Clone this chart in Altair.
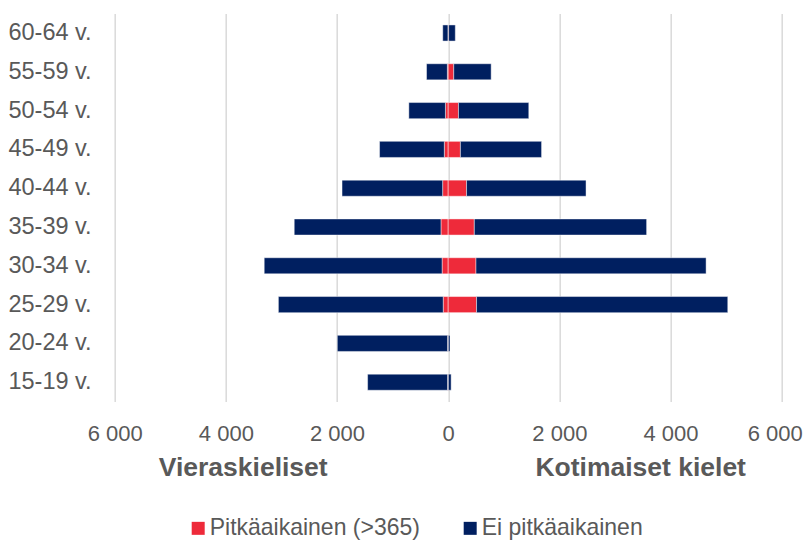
import altair as alt
import pandas as pd

ages = ["60-64 v.", "55-59 v.", "50-54 v.", "45-49 v.", "40-44 v.",
        "35-39 v.", "30-34 v.", "25-29 v.", "20-24 v.", "15-19 v."]
series = ["Pitkäaikainen (>365)", "Ei pitkäaikainen"]

# Vieraskieliset (left side)
foreign_long = [3, 15, 50, 70, 100, 130, 110, 90, 10, 10]
foreign_not = [95, 375, 658, 1165, 1810, 2640, 3200, 2965, 1985, 1440]
# Kotimaiset kielet (right side)
domestic_long = [8, 100, 185, 220, 330, 470, 500, 510, 3, 3]
domestic_not = [120, 673, 1265, 1460, 2150, 3100, 4140, 4520, 30, 50]

rows = []
for i, a in enumerate(ages):
    rows.append({"age": a, "group": series[0], "ord": 0, "value": -foreign_long[i]})
    rows.append({"age": a, "group": series[1], "ord": 1, "value": -foreign_not[i]})
    rows.append({"age": a, "group": series[0], "ord": 0, "value": domestic_long[i]})
    rows.append({"age": a, "group": series[1], "ord": 1, "value": domestic_not[i]})
df = pd.DataFrame(rows)

side_titles = pd.DataFrame({"t": ["Vieraskieliset", "Kotimaiset kielet"]})

FONT = "Liberation Sans"
GREY = "#595959"

bars = alt.Chart(df).mark_bar(stroke="#ffffff", strokeWidth=1, strokeOpacity=0.45).encode(
    x=alt.X("value:Q", stack="zero",
            scale=alt.Scale(domain=[-6000, 6000], nice=False, zero=False),
            axis=alt.Axis(values=[-6000, -4000, -2000, 0, 2000, 4000, 6000],
                          labelExpr="replace(format(abs(datum.value), ','), ',', ' ')",
                          title=None, domain=False, ticks=False, grid=True,
                          gridColor="#d9d9d9", gridWidth=1.5,
                          labelFlush=False, labelOverlap=False, labelBound=False,
                          labelOffset={"condition": {"test": "datum.value == 6000", "value": -7},
                                       "value": 0},
                          labelFont=FONT, labelFontSize=22, labelColor=GREY,
                          labelPadding=22)),
    y=alt.Y("age:N", sort=ages,
            scale=alt.Scale(paddingInner=0.585, paddingOuter=0.2925),
            axis=alt.Axis(title=None, domain=False, ticks=False, tickSize=0,
                          labelAlign="left", labelPadding=106.7,
                          labelFont=FONT, labelFontSize=23.5, labelColor=GREY)),
    color=alt.Color("group:N",
                    scale=alt.Scale(domain=series, range=["#EE2A3A", "#001F60"]),
                    legend=alt.Legend(title=None, orient="none", direction="horizontal",
                                      legendX=72, legendY=503,
                                      symbolType="square", symbolSize=169,
                                      symbolStrokeWidth=0, labelOffset=0,
                                      columnPadding=38, labelLimit=0,
                                      labelFont=FONT, labelFontSize=23,
                                      labelColor=GREY)),
    order=alt.Order("ord:Q"),
)

left_title = alt.Chart(side_titles).transform_filter(
    alt.datum.t == "Vieraskieliset"
).mark_text(font=FONT, fontSize=26.5, fontWeight="bold", color=GREY,
            align="center", baseline="middle").encode(
    text="t:N", x=alt.value(128.5), y=alt.value(454.5))

right_title = alt.Chart(side_titles).transform_filter(
    alt.datum.t == "Kotimaiset kielet"
).mark_text(font=FONT, fontSize=26.5, fontWeight="bold", color=GREY,
            align="center", baseline="middle").encode(
    text="t:N", x=alt.value(526), y=alt.value(454.5))

chart = alt.layer(bars, left_title, right_title).properties(
    width=667, height=388,
    autosize=alt.AutoSizeParams(type="none"),
    padding={"left": 106.7, "top": 5.6, "right": 21, "bottom": 140},
    background="white",
).configure_view(stroke=None)

chart.save("out.html", embed_options={"renderer": "svg", "actions": False})
